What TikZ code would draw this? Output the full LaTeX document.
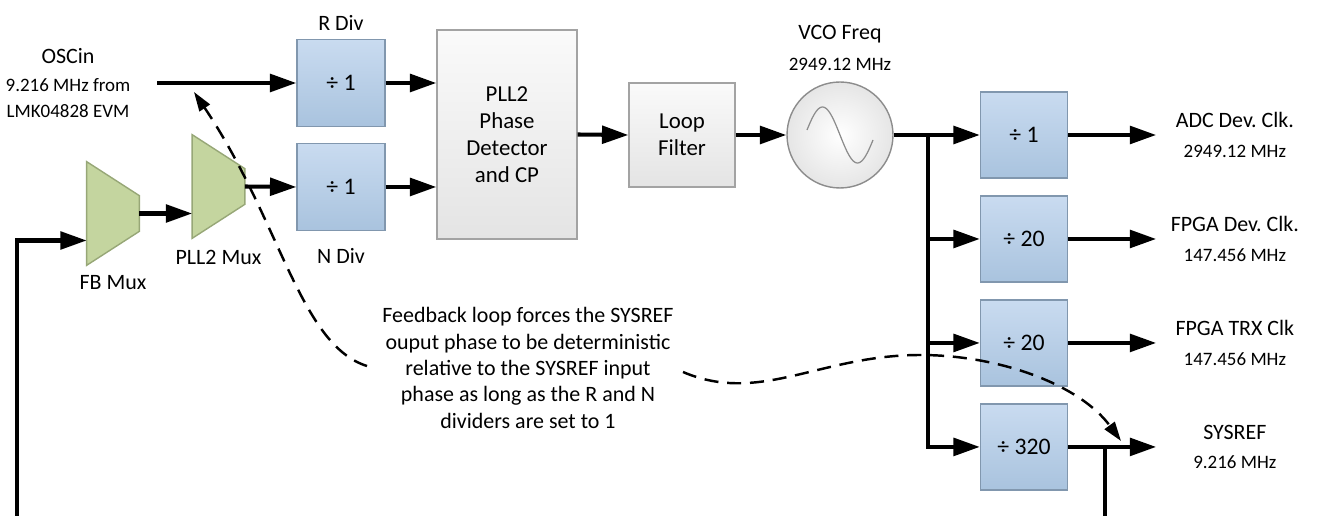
\documentclass[tikz,border=0pt]{standalone}
\usepackage{fontspec}
\setmainfont{Carlito}
\usepackage{tikz}
\usetikzlibrary{shapes.geometric,arrows.meta,positioning}
\definecolor{divtop}{HTML}{C9DBF0}
\definecolor{divbot}{HTML}{A9C3DE}
\definecolor{divline}{HTML}{8197AE}
\definecolor{muxfill}{HTML}{C4D59F}
\definecolor{muxline}{HTML}{97A777}
\definecolor{pdtop}{HTML}{FAFAFA}
\definecolor{pdbot}{HTML}{E4E4E4}
\definecolor{pdline}{HTML}{A3A3A3}
\newcommand{\freqfont}{\fontsize{10.8}{13}\selectfont}
\tikzstyle{line} = [draw, line width=2.3pt, -{Triangle[length=15pt,width=10pt]}]
\tikzstyle{wire} = [draw, line width=2.3pt]
\tikzstyle{fbline} = [draw, line width=1.4pt, dash pattern=on 8pt off 5pt, -{Triangle[length=11pt,width=7pt]}]
\tikzstyle{divider} = [rectangle, minimum width=1.76cm, minimum height=1.74cm, top color=divtop, bottom color=divbot, draw=divline, line width=0.8pt, font=\fontsize{13.5}{16}\selectfont]
\tikzstyle{block} = [rectangle, top color=pdtop, bottom color=pdbot, draw=pdline, line width=0.8pt, align=center, font=\fontsize{13}{15.3}\selectfont]
\tikzstyle{muxbox} = [rectangle, minimum width=1.04cm, minimum height=2.06cm, inner sep=0pt]
\tikzstyle{muxshape} = [fill=muxfill, draw=muxline, line width=0.8pt]
\tikzstyle{vco} = [circle, minimum size=2.12cm, inner color=white, outer color=black!10, draw=black!45, line width=0.8pt]
\tikzstyle{heading} = [font=\fontsize{12.5}{15}\selectfont, align=center]
\tikzstyle{output} = [heading, align=flush center, text width=2.9cm, node distance=1.76cm]
\begin{document}
\frenchspacing
\begin{tikzpicture}[x=0.02cm, y=-0.02cm, node distance=2.08cm]
\useasboundingbox (0,0) rectangle (1319,516);
% Place nodes
\node [heading] (oscin) at (68,83) {OSCin\\[1pt]\freqfont 9.216 MHz from\\\freqfont LMK04828 EVM};
\coordinate (oscout) at (157,83);
\node [divider] (rdiv) at (341,83) {÷ 1};
\node [divider, below of=rdiv] (ndiv) {÷ 1};
\node [heading, above=1pt of rdiv] (rlbl) {R Div};
\node [heading, below=6pt of ndiv] (nlbl) {N Div};
\node [muxbox] (pllmux) at (218.5,186.5) {};
\node [muxbox] (fbmux) at (113,213.5) {};
\node [heading, below=2pt of fbmux] (fblbl) {FB Mux};
\node [heading, below=3pt of pllmux] (plllbl) {PLL2 Mux};
\node [block, minimum width=2.8cm, minimum height=4.18cm] (pd) at (507,134.5) {PLL2\\Phase\\Detector\\and CP};
\node [block, minimum width=2.12cm, minimum height=2.08cm] (lf) at (682,135) {Loop\\Filter};
\node [vco] (vco) at (840,135) {};
\node [heading] (vcolbl) at (840,48) {VCO Freq\\[3pt]\freqfont 2949.12 MHz};
\coordinate (split) at (928,135);
\node [divider, minimum width=1.74cm, minimum height=1.72cm] (div1) at (1024,135) {÷ 1};
\node [divider, minimum width=1.74cm, minimum height=1.72cm, below of=div1] (div20) {÷ 20};
\node [divider, minimum width=1.74cm, minimum height=1.72cm, below of=div20] (div20b) {÷ 20};
\node [divider, minimum width=1.74cm, minimum height=1.72cm, below of=div20b] (div320) {÷ 320};
\node [output, right=of div1] (adc) {ADC Dev. Clk.\\[2pt]\freqfont 2949.12 MHz};
\node [output, right=of div20] (fpga) {FPGA Dev. Clk.\\[2pt]\freqfont 147.456 MHz};
\node [output, right=of div20b] (trx) {FPGA TRX Clk\\[2pt]\freqfont 147.456 MHz};
\node [output, right=of div320] (sysref) {SYSREF\\[2pt]\freqfont 9.216 MHz};
\node [heading] (note) at (528,368) {Feedback loop forces the SYSREF\\ouput phase to be deterministic\\relative to the SYSREF input\\phase as long as the R and N\\dividers are set to 1};
\coordinate (tap) at (1105,448);
\coordinate (fbr) at (1105,516);
\coordinate (fbl) at (17,516);
\coordinate (noteL) at (367,366);
\coordinate (noteR) at (683,372);
\coordinate (oscmark) at (194,92);
\coordinate (sysmark) at (1121,441);
% Mux and VCO symbols
\foreach \m in {fbmux, pllmux}
  \path [muxshape] (\m.north west) -- ([yshift=-0.68cm]\m.north east) -- ([yshift=0.68cm]\m.south east) -- (\m.south west) -- cycle;
\draw [black!45, line width=0.7pt, shift={(vco.center)}] plot [domain=-33:33, samples=50, smooth] (\x, {28*sin(360*\x/70)});
% Draw edges
\path [line] (oscout) -- (rdiv.west);
\path [line] (rdiv.east) -- (rdiv -| pd.west);
\path [line] (ndiv.east) -- (ndiv -| pd.west);
\path [line] (fbl) |- ([yshift=-0.54cm]fbmux.west);
\path [line] (fbmux.east) -- (fbmux.east -| pllmux.west);
\path [line] (pllmux.east) -- (ndiv.west);
\path [line] (pd.east) -- (lf.west);
\path [line] (lf.east) -- (vco.west);
\path [line] (vco.east) -- (div1.west);
\path [line] (split) |- (div20.west);
\path [line] (split) |- (div20b.west);
\path [line] (split) |- (div320.west);
\path [line] (div1.east) -- (adc.west);
\path [line] (div20.east) -- (fpga.west);
\path [line] (div20b.east) -- (trx.west);
\path [line] (div320.east) -- (sysref.west);
\path [wire] (tap) -- (fbr);
% Feedback loop note
\path [fbline] (noteL) .. controls (300,345) and (280,220) .. (oscmark);
\path [fbline] (noteR) .. controls (760,405) and (820,355) .. (920,355) .. controls (1000,355) and (1080,385) .. (sysmark);
\end{tikzpicture}
\end{document}
